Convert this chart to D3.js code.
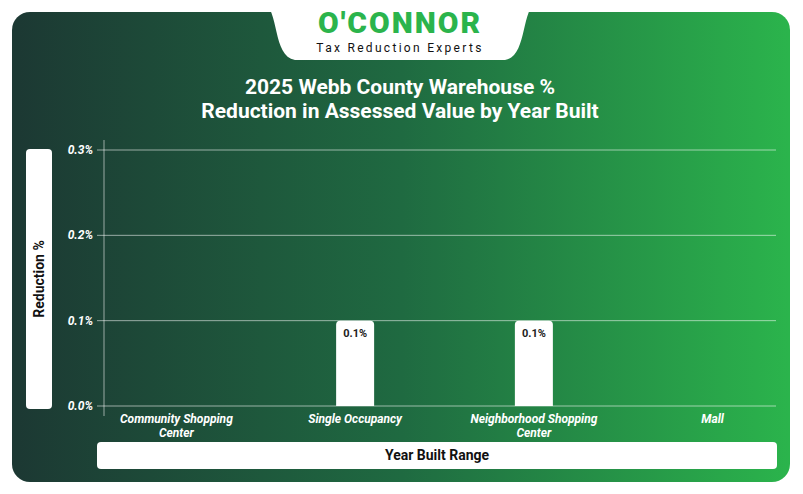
<!DOCTYPE html>
<html><head><meta charset="utf-8">
<script src="https://cdn.jsdelivr.net/npm/d3@7"></script>
<style>body{margin:0;background:#fff}svg{display:block;font-family:Roboto,"Liberation Sans",sans-serif}</style>
</head><body><svg id="c" width="803" height="494"></svg>
<script>
var categories = ["Community Shopping Center", "Single Occupancy", "Neighborhood Shopping Center", "Mall"];
var values = [0, 0.1, 0.1, 0];
var yTicks = [0, 0.1, 0.2, 0.3];

var svg = d3.select("#c");
var defs = svg.append("defs");
var g = defs.append("linearGradient").attr("id", "bg");
g.append("stop").attr("offset", "0%").attr("stop-color", "#1c3833");
g.append("stop").attr("offset", "50%").attr("stop-color", "#1f6a41");
g.append("stop").attr("offset", "100%").attr("stop-color", "#2bb44c");

svg.append("rect").attr("x", 12).attr("y", 12).attr("width", 778).attr("height", 470)
    .attr("rx", 18).attr("fill", "url(#bg)");

// logo tab
svg.append("path").attr("fill", "#fff")
    .attr("d", "M262,0 L538,0 C520,10 528,56 505,60 L295,60 C272,56 280,10 262,0 Z");
svg.append("text").attr("x", 400).attr("y", 33).attr("text-anchor", "middle")
    .attr("font-size", 30).attr("font-weight", 900).attr("fill", "#2bb44c")
    .attr("letter-spacing", 2).text("O'CONNOR");
svg.append("text").attr("x", 400).attr("y", 52).attr("text-anchor", "middle")
    .attr("font-size", 12).attr("fill", "#111").attr("letter-spacing", 2.3).text("Tax Reduction Experts");

svg.append("text").attr("x", 400).attr("y", 94).attr("text-anchor", "middle")
    .attr("font-size", 21).attr("font-weight", 700).attr("fill", "#fff").text("2025 Webb County Warehouse %");
svg.append("text").attr("x", 400).attr("y", 118).attr("text-anchor", "middle")
    .attr("font-size", 21).attr("font-weight", 700).attr("fill", "#fff").text("Reduction in Assessed Value by Year Built");

var y = d3.scaleLinear().domain([0, 0.3]).range([406, 150]);
var x = d3.scaleBand().domain(categories).range([87, 802]);

var grid = svg.append("g");
grid.selectAll("line").data(yTicks).enter().append("line")
    .attr("x1", 97).attr("x2", 776).attr("y1", function (d) { return y(d); }).attr("y2", function (d) { return y(d); })
    .attr("stroke", "#fff").attr("stroke-opacity", 0.55).attr("stroke-width", 1);
svg.append("line").attr("x1", 104).attr("x2", 104).attr("y1", 140).attr("y2", 416)
    .attr("stroke", "#fff").attr("stroke-opacity", 0.55);
grid.selectAll("text").data(yTicks).enter().append("text")
    .attr("x", 93).attr("y", function (d) { return y(d) + 4; }).attr("text-anchor", "end")
    .attr("font-size", 12).attr("font-weight", 700).attr("font-style", "italic").attr("fill", "#fff")
    .text(function (d) { return d.toFixed(1) + "%"; });

var bw = 38;
var barData = categories.map(function (c, i) { return {c: c, v: values[i]}; })
    .filter(function (d) { return d.v > 0; });
var bars = svg.append("g").selectAll("g").data(barData).enter().append("g");
bars.append("path").attr("fill", "#fff")
    .attr("d", function (d) {
        var x0 = x(d.c) + x.bandwidth() / 2 - bw / 2, y0 = y(d.v), y1 = y(0), r = 4;
        return "M" + x0 + "," + y1 + "V" + (y0 + r) + "Q" + x0 + "," + y0 + " " + (x0 + r) + "," + y0 +
            "H" + (x0 + bw - r) + "Q" + (x0 + bw) + "," + y0 + " " + (x0 + bw) + "," + (y0 + r) + "V" + y1 + "Z";
    });
bars.append("text")
    .attr("x", function (d) { return x(d.c) + x.bandwidth() / 2; })
    .attr("y", function (d) { return y(d.v) + 16; }).attr("text-anchor", "middle")
    .attr("font-size", 11).attr("font-weight", 700).attr("fill", "#222")
    .text(function (d) { return d.v.toFixed(1) + "%"; });

var labels = {"Community Shopping Center": ["Community Shopping", "Center"],
    "Single Occupancy": ["Single Occupancy"],
    "Neighborhood Shopping Center": ["Neighborhood Shopping", "Center"], "Mall": ["Mall"]};
svg.append("g").selectAll("text").data(categories).enter().append("text")
    .attr("text-anchor", "middle").attr("font-size", 12).attr("font-weight", 700)
    .attr("font-style", "italic").attr("fill", "#fff")
    .each(function (d) {
        var t = d3.select(this);
        labels[d].forEach(function (l, k) {
            t.append("tspan").attr("x", x(d) + x.bandwidth() / 2).attr("y", 423 + k * 14).text(l);
        });
    });

svg.append("rect").attr("x", 26).attr("y", 149).attr("width", 26).attr("height", 260).attr("rx", 4).attr("fill", "#fff");
svg.append("text").attr("transform", "translate(44,279) rotate(-90)").attr("text-anchor", "middle")
    .attr("font-size", 14).attr("font-weight", 700).attr("fill", "#111").text("Reduction %");
svg.append("rect").attr("x", 97).attr("y", 442).attr("width", 680).attr("height", 27).attr("rx", 4).attr("fill", "#fff");
svg.append("text").attr("x", 437).attr("y", 460).attr("text-anchor", "middle")
    .attr("font-size", 14).attr("font-weight", 700).attr("fill", "#111").text("Year Built Range");
</script></body></html>
